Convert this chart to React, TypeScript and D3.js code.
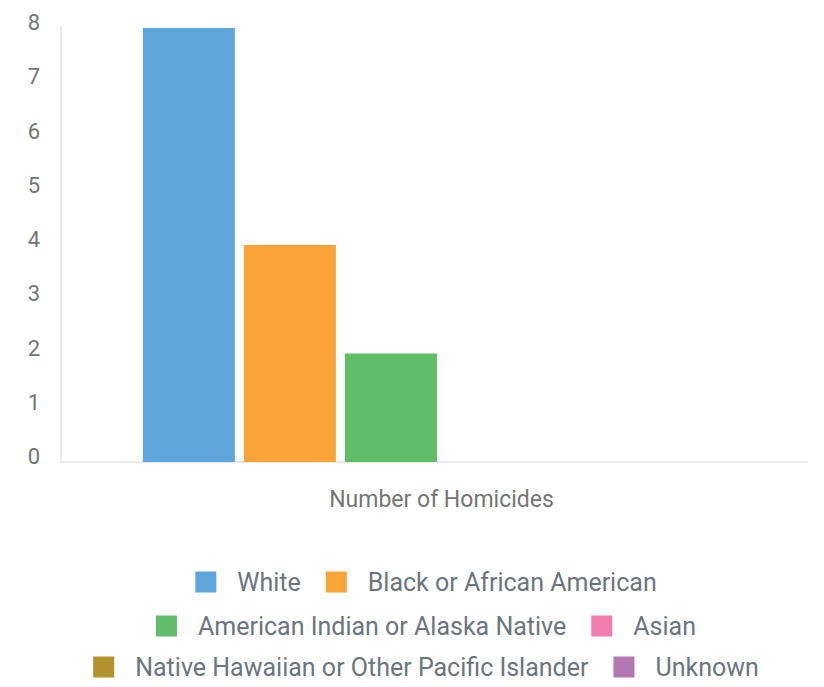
import { useEffect, useRef } from 'react';
import * as d3 from 'd3';

const categories = ['Number of Homicides'];
const series = [
  'White',
  'Black or African American',
  'American Indian or Alaska Native',
  'Asian',
  'Native Hawaiian or Other Pacific Islander',
  'Unknown',
];
const values = [8, 4, 2, 0, 0, 0];
const colors = ['#5DA5DA', '#FAA43A', '#60BD68', '#F17CB0', '#B2912F', '#B276B2'];
const yTicks = [0, 1, 2, 3, 4, 5, 6, 7, 8];

const W = 824;
const H = 687;
const FONT = 'Roboto, "Noto Sans", sans-serif';

export default function App() {
  const ref = useRef<SVGSVGElement>(null);

  useEffect(() => {
    if (!ref.current) return;
    const svg = d3.select(ref.current);
    svg.selectAll('*').remove();

    const left = 61, right = 808, top = 28, bottom = 462;

    const y = d3.scaleLinear().domain([0, 8]).range([bottom, top]);
    const x0 = d3.scaleBand().domain(categories).range([left, 822]).paddingInner(0).paddingOuter(0.137);
    const x1 = d3.scaleBand().domain(series).range([0, x0.bandwidth()]).paddingInner(0.09).paddingOuter(0);

    // axis lines
    svg.append('line').attr('x1', left).attr('x2', left).attr('y1', top - 2).attr('y2', bottom)
      .attr('stroke', '#e3e3e3').attr('stroke-width', 1.5);
    svg.append('line').attr('x1', left).attr('x2', right).attr('y1', bottom).attr('y2', bottom)
      .attr('stroke', '#e3e3e3').attr('stroke-width', 1.5);

    // y tick labels
    svg.append('g').selectAll('text').data(yTicks).enter().append('text')
      .attr('x', 40).attr('y', (d) => y(d)).attr('dy', '0.1em')
      .attr('text-anchor', 'end').attr('font-family', FONT).attr('font-size', 22)
      .attr('fill', '#757575').text((d) => d);

    // bars
    categories.forEach((cat) => {
      const g = svg.append('g').attr('transform', `translate(${x0(cat)},0)`);
      g.selectAll('rect').data(series).enter().append('rect')
        .attr('x', (d) => x1(d)!)
        .attr('y', (d, i) => y(values[i]))
        .attr('width', x1.bandwidth())
        .attr('height', (d, i) => bottom - y(values[i]))
        .attr('fill', (d, i) => colors[i]);
      svg.append('text')
        .attr('x', x0(cat)! + x0.bandwidth() / 2).attr('y', 507)
        .attr('text-anchor', 'middle').attr('font-family', FONT).attr('font-size', 23)
        .attr('fill', '#757575').text(cat);
    });

    // legend, wrapped into centred rows
    const fs = 25, sq = 21, gapText = 21, gapItem = 25, maxW = 720, cx = 426;
    const rowY = [582, 626, 667];
    const items = series.map((s, i) => {
      const t = svg.append('text').attr('font-family', FONT).attr('font-size', fs).text(s);
      const w = (t.node() as SVGTextElement).getComputedTextLength();
      t.remove();
      return { name: s, color: colors[i], w: sq + gapText + w };
    });
    const rows: typeof items[] = [];
    let cur: typeof items = [];
    let curW = 0;
    items.forEach((it) => {
      const add = cur.length ? gapItem + it.w : it.w;
      if (cur.length && curW + add > maxW) {
        rows.push(cur);
        cur = [it];
        curW = it.w;
      } else {
        cur.push(it);
        curW += add;
      }
    });
    if (cur.length) rows.push(cur);

    rows.forEach((row, r) => {
      const total = d3.sum(row, (d) => d.w) + gapItem * (row.length - 1);
      let xx = cx - total / 2;
      const yy = rowY[r] ?? rowY[rowY.length - 1] + 42 * (r - 2);
      row.forEach((it) => {
        svg.append('rect').attr('x', xx).attr('y', yy - sq / 2).attr('width', sq).attr('height', sq)
          .attr('fill', it.color);
        svg.append('text').attr('x', xx + sq + gapText).attr('y', yy).attr('dy', '0.36em')
          .attr('font-family', FONT).attr('font-size', fs).attr('fill', '#6b7580').text(it.name);
        xx += it.w + gapItem;
      });
    });
  }, []);

  return (
    <svg ref={ref} width={W} height={H} style={{ position: 'absolute', left: 0, top: 0, background: '#fff' }} />
  );
}
